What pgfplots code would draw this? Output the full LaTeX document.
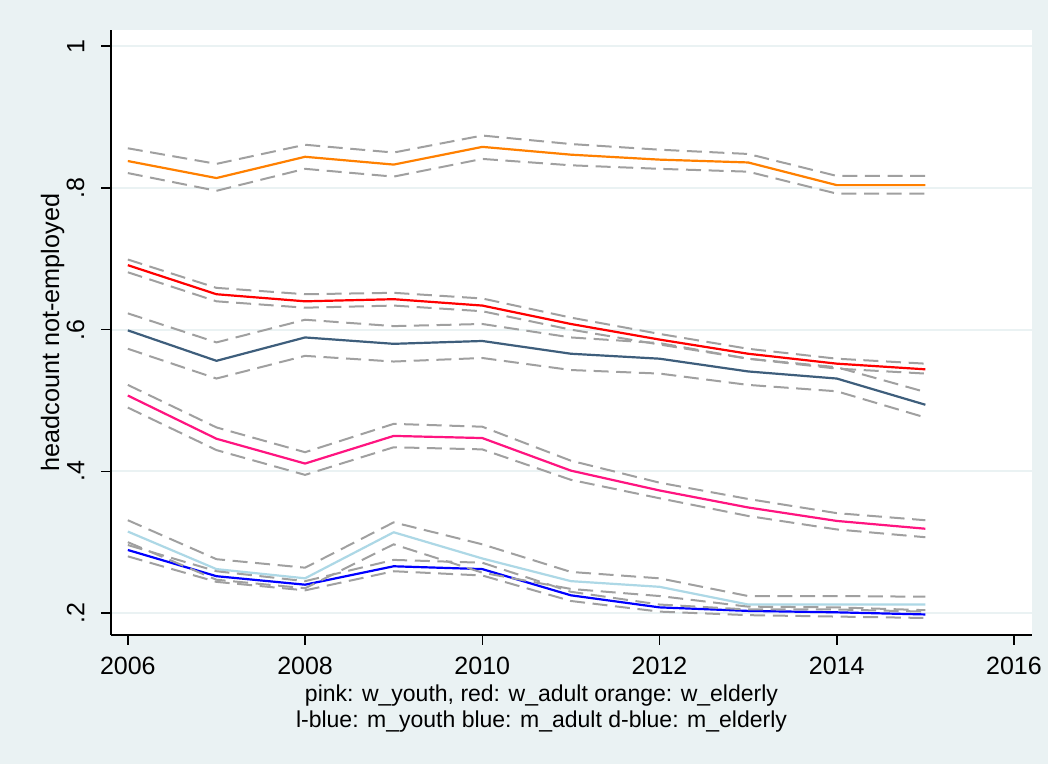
\documentclass[border=0pt]{standalone}
\usepackage{pgfplots}
\pgfplotsset{compat=1.18}
\usepackage{pgfplotstable}
\usepackage{fontspec}
\setmainfont{Liberation Sans}

\definecolor{bgstata}{RGB}{234,242,243}
\definecolor{gridc}{RGB}{234,242,243}
\definecolor{cigray}{RGB}{160,160,160}
\definecolor{worange}{RGB}{255,128,0}
\definecolor{wred}{RGB}{255,0,0}
\definecolor{wpink}{RGB}{255,20,128}
\definecolor{mlblue}{RGB}{173,216,230}
\definecolor{mblue}{RGB}{0,0,255}
\definecolor{mdblue}{RGB}{62,94,124}

% share not employed by group: estimate, lower and upper bound
% w = women, m = men; y = youth, a = adult, e = elderly
\pgfplotstableread{
year wy    wyl   wyu   wa    wal   wau   we    wel   weu   my    myl   myu   ma    mal   mau   me    mel   meu
2006 0.507 0.490 0.522 0.691 0.681 0.699 0.838 0.821 0.856 0.315 0.300 0.331 0.289 0.280 0.296 0.599 0.573 0.623
2007 0.446 0.430 0.462 0.650 0.640 0.659 0.814 0.796 0.834 0.262 0.247 0.276 0.252 0.244 0.259 0.556 0.531 0.582
2008 0.411 0.395 0.427 0.640 0.631 0.650 0.844 0.827 0.861 0.249 0.235 0.264 0.240 0.232 0.245 0.589 0.563 0.614
2009 0.450 0.434 0.467 0.643 0.634 0.652 0.833 0.816 0.850 0.314 0.297 0.328 0.266 0.259 0.275 0.580 0.555 0.605
2010 0.447 0.431 0.463 0.634 0.626 0.644 0.858 0.841 0.874 0.277 0.257 0.297 0.262 0.253 0.271 0.584 0.560 0.608
2011 0.401 0.388 0.415 0.608 0.600 0.617 0.847 0.832 0.862 0.245 0.234 0.258 0.225 0.217 0.230 0.566 0.543 0.589
2012 0.373 0.362 0.384 0.586 0.579 0.594 0.840 0.827 0.854 0.237 0.224 0.249 0.208 0.202 0.212 0.559 0.538 0.581
2013 0.349 0.337 0.361 0.566 0.559 0.573 0.836 0.823 0.848 0.212 0.209 0.224 0.203 0.197 0.205 0.541 0.522 0.559
2014 0.330 0.318 0.341 0.552 0.545 0.559 0.804 0.792 0.817 0.212 0.208 0.224 0.201 0.195 0.205 0.531 0.513 0.547
2015 0.319 0.307 0.331 0.544 0.538 0.552 0.804 0.792 0.817 0.212 0.204 0.223 0.198 0.193 0.202 0.494 0.476 0.512
}\data

\begin{document}
\begin{tikzpicture}
\fill[bgstata] (0,0) rectangle (524pt,382pt);
\begin{axis}[
  at={(55.5pt,64.5pt)}, anchor=south west,
  scale only axis, width=460.35pt, height=302.5pt,
  xmin=2005.81, xmax=2016.2, ymin=0.169, ymax=1.023,
  axis background/.style={fill=white},
  axis x line*=bottom, axis y line*=left,
  axis line style={black, line width=0.8pt, -},
  xtick={2006,2008,2010,2012,2014,2016},
  xticklabels={2006,2008,2010,2012,2014,2016},
  ytick={0.2,0.4,0.6,0.8,1},
  yticklabels={.2,.4,.6,.8,1},
  tick align=outside, major tick length=5pt,
  tick style={black, line width=0.8pt},
  ymajorgrids, major grid style={gridc, line width=1pt},
  ticklabel style={font=\fontsize{12.5}{14}\selectfont},
  yticklabel style={rotate=90, anchor=south},
  xticklabel shift=2.5pt, yticklabel shift=4.8pt,
  every axis y label/.style={at={(axis description cs:-0.0635,0.5)}, rotate=90, anchor=center,
    font=\fontsize{12.6}{15}\selectfont},
  ylabel={headcount not-employed},
  no markers,
  ci/.style={cigray, line width=1pt, dash pattern=on 7.5pt off 3.8pt},
  main/.style={line width=1.1pt, line join=round},
]
% estimates
\addplot[main, wpink]   table[x=year,y=wy]{\data};
\addplot[main, wred]    table[x=year,y=wa]{\data};
\addplot[main, worange] table[x=year,y=we]{\data};
\addplot[main, mlblue]  table[x=year,y=my]{\data};
\addplot[main, mblue]   table[x=year,y=ma]{\data};
\addplot[main, mdblue]  table[x=year,y=me]{\data};
% confidence bands
\addplot[ci] table[x=year,y=wyl]{\data};
\addplot[ci] table[x=year,y=wyu]{\data};
\addplot[ci] table[x=year,y=wal]{\data};
\addplot[ci] table[x=year,y=wau]{\data};
\addplot[ci] table[x=year,y=wel]{\data};
\addplot[ci] table[x=year,y=weu]{\data};
\addplot[ci] table[x=year,y=myl]{\data};
\addplot[ci] table[x=year,y=myu]{\data};
\addplot[ci] table[x=year,y=mal]{\data};
\addplot[ci] table[x=year,y=mau]{\data};
\addplot[ci] table[x=year,y=mel]{\data};
\addplot[ci] table[x=year,y=meu]{\data};
\end{axis}
\node[anchor=base, font=\fontsize{11.5}{14}\selectfont] at (270.75pt,31.15pt)
  {pink: w\_youth, red: w\_adult orange: w\_elderly};
\node[anchor=base, font=\fontsize{11.5}{14}\selectfont] at (270.75pt,18.35pt)
  {l-blue: m\_youth blue: m\_adult d-blue: m\_elderly};
\pgfresetboundingbox
\useasboundingbox (0,0) rectangle (524pt,382pt);
\end{tikzpicture}
\end{document}
